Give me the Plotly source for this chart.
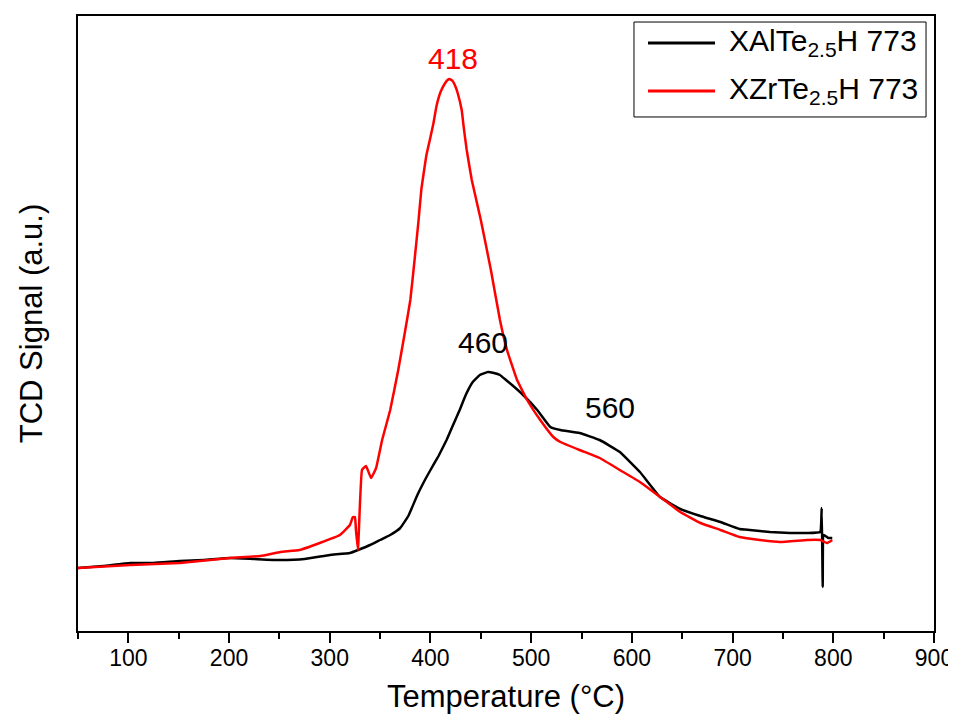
import plotly.graph_objects as go

# XAlTe2.5H 773 (black)
al_temp = [50, 75, 102, 125, 151, 175, 201, 225, 251, 275, 300, 320, 328, 340, 350, 360,
           370, 378, 387, 395, 400, 408, 416, 422, 429, 435, 442, 449, 457, 463, 469, 475,
           481, 492, 506, 519, 529, 548, 568, 588, 608, 628, 648, 668, 688, 707, 717, 737,
           757, 774, 787, 788.5, 789.5, 790.5, 795, 799]
al_signal = [63, 65, 68, 68, 70, 71, 73, 72, 71, 72, 76, 78, 81, 86, 91, 96,
             103, 115, 136, 152, 161, 175, 191, 205, 221, 236, 249, 256, 259, 258, 256, 251,
             246, 236, 221, 204, 201, 198, 191, 179, 159, 134, 122, 115, 109, 102, 101, 99,
             98, 98, 99, 123, 44, 96, 93, 93]

# XZrTe2.5H 773 (red)
zr_temp = [50, 102, 151, 201, 231, 251, 270, 290, 310, 320, 323, 325, 326, 328, 332, 336,
           341, 346, 352, 360, 368, 375, 380, 384, 388, 391, 394, 396, 400, 403, 406, 410,
           414, 417, 419, 422, 425, 427, 431, 433, 436, 441, 450, 460, 469, 476, 486, 496,
           509, 522, 529, 548, 568, 588, 608, 628, 648, 668, 688, 707, 727, 747, 774, 787,
           794, 799]
zr_signal = [63, 66, 68, 73, 75, 79, 81, 88, 96, 106, 114, 114, 101, 81, 161, 165,
             153, 163, 191, 221, 261, 301, 331, 369, 409, 442, 463, 476, 494, 508, 525, 539,
             547, 551, 552, 550, 544, 538, 521, 504, 481, 451, 411, 361, 311, 281, 251, 231,
             211, 194, 189, 181, 173, 161, 149, 134, 119, 108, 101, 94, 91, 89, 91, 91,
             88, 91]

series_names = ["XAlTe<sub>2.5</sub>H 773", "XZrTe<sub>2.5</sub>H 773"]
series_colors = ["#000000", "#ff0000"]

peak_labels = ["418", "460", "560"]
peak_x = [422, 452, 578]
peak_y = [573, 289, 224]
peak_colors = ["#ff0000", "#000000", "#000000"]

FONT = "Liberation Sans, Arial, sans-serif"

fig = go.Figure()
for tx, sy, nm, col in zip([al_temp, zr_temp], [al_signal, zr_signal], series_names, series_colors):
    fig.add_trace(go.Scatter(x=tx, y=sy, mode="lines", name=nm, showlegend=False,
                             line=dict(color=col, width=2.5, shape="spline", smoothing=0.3)))

for t, x, y, c in zip(peak_labels, peak_x, peak_y, peak_colors):
    fig.add_annotation(x=x, y=y, text=t, showarrow=False,
                       font=dict(size=30, color=c, family=FONT))

# legend drawn manually (long line samples as in the reference)
fig.add_shape(type="rect", xref="paper", yref="paper", x0=0.6495, x1=0.9907,
              y0=0.8358, y1=0.9902, line=dict(color="#000000", width=1),
              fillcolor="white", layer="above")
leg_y = [0.9561, 0.8781]
for ly, nm, col in zip(leg_y, series_names, series_colors):
    fig.add_shape(type="line", xref="paper", yref="paper", x0=0.6659, x1=0.7442,
                  y0=ly, y1=ly, line=dict(color=col, width=3), layer="above")
    fig.add_annotation(xref="paper", yref="paper", x=0.7582, y=ly, text=nm,
                       showarrow=False, xanchor="left", yanchor="middle", yshift=0,
                       font=dict(size=30, color="#000000", family=FONT))

fig.update_layout(
    width=948, height=710,
    margin=dict(l=70, r=22, t=8, b=87),
    paper_bgcolor="white", plot_bgcolor="white",
    font=dict(family=FONT, color="#000000"),
    showlegend=False,
    xaxis=dict(range=[50, 900], tickvals=[100, 200, 300, 400, 500, 600, 700, 800, 900],
               ticks="outside", ticklen=10, tickwidth=2, tickcolor="#000000",
               minor=dict(tickvals=[50, 150, 250, 350, 450, 550, 650, 750, 850],
                          ticks="outside", ticklen=6, tickwidth=2, tickcolor="#000000"),
               showline=True, linecolor="#000000", linewidth=2, mirror=True,
               showgrid=False, zeroline=False, automargin=False,
               ticklabelstandoff=-5,
               tickfont=dict(size=23, family=FONT),
               title=dict(text="Temperature (°C)", font=dict(size=31, family=FONT), standoff=16)),
    yaxis=dict(range=[0, 615], showticklabels=False, ticks="",
               showline=True, linecolor="#000000", linewidth=2, mirror=True,
               showgrid=False, zeroline=False, automargin=False,
               title=dict(text="TCD Signal (a.u.)", font=dict(size=31, family=FONT), standoff=24)),
)

fig.write_html("out.html")
